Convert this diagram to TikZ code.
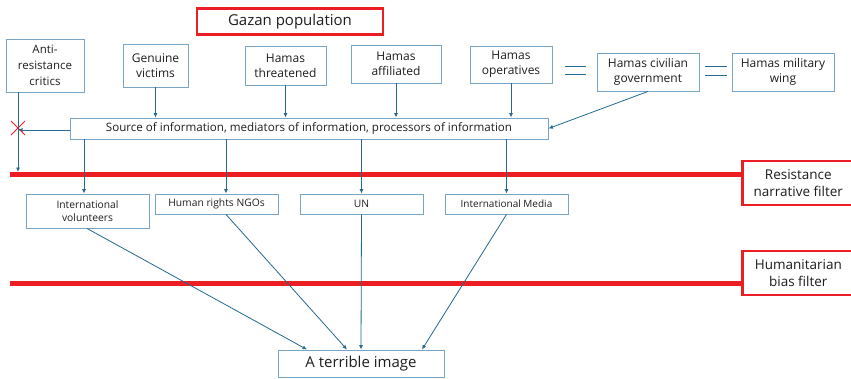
\documentclass[tikz,border=0pt]{standalone}
\usepackage{fontspec}
\setmainfont{Open Sans}
\usetikzlibrary{arrows.meta}
\definecolor{boxc}{RGB}{120,165,195}
\definecolor{arr}{RGB}{35,105,145}
\definecolor{redc}{RGB}{236,30,36}
\definecolor{txt}{RGB}{30,30,30}
\tikzset{
  bx/.style={draw=boxc, line width=0.9pt, inner sep=0pt, align=center, text=txt, font=\fontsize{12}{15}\selectfont},
  rbx/.style={draw=redc, line width=2.6pt, inner sep=0pt, align=center, text=txt, fill=white},
  ar/.style={draw=arr, line width=0.8pt, -{Latex[length=4.5pt,width=4pt]}},
  ln/.style={draw=arr, line width=0.8pt},
  redline/.style={draw=redc, line width=5pt},
}
\begin{document}
\begin{tikzpicture}[x=1pt,y=-1pt]
\useasboundingbox (0,0) rectangle (851,378);
% red lines
\coordinate (l1a) at (10,174); \coordinate (l1b) at (745,174);
\coordinate (l2a) at (10,283); \coordinate (l2b) at (745,283);
\draw[redline] (l1a) -- (l1b);
\draw[redline] (l2a) -- (l2b);
% title
\node[rbx, minimum width=186pt, minimum height=26pt, font=\fontsize{15}{17}\selectfont] (gaza) at (290,21.5) {Gazan population};
% top boxes
\node[bx, minimum width=78pt, minimum height=53pt, font=\fontsize{11.5}{16}\selectfont] (anti) at (45,65.5) {Anti-\\resistance\\critics};
\node[bx, minimum width=65pt, minimum height=43pt] (gen) at (155.5,65.5) {Genuine\\victims};
\node[bx, minimum width=81pt, minimum height=39pt] (thr) at (285.5,65.5) {Hamas\\threatened};
\node[bx, minimum width=90pt, minimum height=38pt] (aff) at (396,64) {Hamas\\affiliated};
\node[bx, minimum width=82pt, minimum height=37pt] (ops) at (511,64.5) {Hamas\\operatives};
\node[bx, minimum width=102pt, minimum height=38pt] (civ) at (648,72) {Hamas civilian\\government};
\node[bx, minimum width=102pt, minimum height=38pt] (mil) at (783,72) {Hamas military\\wing};
% double lines
\coordinate (d1a) at (565,66); \coordinate (d1b) at (586,66);
\coordinate (d2a) at (565,74); \coordinate (d2b) at (586,74);
\coordinate (d3a) at (705,66); \coordinate (d3b) at (727,66);
\coordinate (d4a) at (705,75); \coordinate (d4b) at (727,75);
\draw[ln] (d1a) -- (d1b); \draw[ln] (d2a) -- (d2b);
\draw[ln] (d3a) -- (d3b); \draw[ln] (d4a) -- (d4b);
% source box
\node[bx, minimum width=478pt, minimum height=21pt, font=\fontsize{11.6}{13}\selectfont] (src) at (309,128.5) {Source of information, mediators of information, processors of information};
% arrows into source
\draw[ar] (gen.south) -- (gen.south |- src.north);
\draw[ar] (thr.south) -- (thr.south |- src.north);
\draw[ar] (aff.south) -- (aff.south |- src.north);
\draw[ar] (ops.south) -- (ops.south |- src.north);
\draw[ar] (civ.south) -- (src.east);
% left arrow + X
\coordinate (xl) at (18,130);
\draw[ar] (src.west |- xl) -- (xl);
\draw[redc, line width=0.8pt] (11,121) -- (25,135) (11,135) -- (25,121);
\coordinate (antitop) at (18,92);
\coordinate (antiend) at (18,172);
\draw[ar] (antitop) -- (antiend);
% lower boxes
\node[bx, minimum width=123pt, minimum height=34pt, font=\fontsize{10.3}{13.5}\selectfont] (vol) at (87.5,211) {International\\volunteers};
\node[bx, minimum width=123pt, minimum height=20pt, font=\fontsize{10.3}{12}\selectfont] (ngo) at (216.5,204) {Human rights NGOs};
\node[bx, minimum width=123pt, minimum height=20pt, font=\fontsize{10.3}{12}\selectfont] (un) at (361.5,204) {UN};
\node[bx, minimum width=123pt, minimum height=20pt, font=\fontsize{10}{12}\selectfont] (med) at (506.5,204) {International Media};
\draw[ar] ([xshift=-3.5pt]vol.north |- src.south) -- ([xshift=-3.5pt]vol.north);
\draw[ar] ([xshift=9.5pt]ngo.north |- src.south) -- ([xshift=9.5pt]ngo.north);
\draw[ar] (un.north |- src.south) -- (un.north);
\draw[ar] (med.north |- src.south) -- (med.north);
% filter boxes
\node[rbx, minimum width=112pt, minimum height=44pt, font=\fontsize{13.5}{17}\selectfont, anchor=west] (rf) at (741,183) {Resistance\\narrative filter};
\node[rbx, minimum width=112pt, minimum height=44pt, font=\fontsize{13.5}{17}\selectfont, anchor=west] (hf) at (741,273) {Humanitarian\\bias filter};
% final box
\node[bx, minimum width=166pt, minimum height=27pt, font=\fontsize{15}{17}\selectfont] (img) at (361,363.5) {A terrible image};
\draw[ar] ([xshift=-0.5pt]vol.south) -- ([xshift=-54pt]img.north);
\draw[ar] ([xshift=9.5pt]ngo.south) -- ([xshift=-14pt]img.north);
\draw[ar] (un.south) -- (img.north);
\draw[ar] (med.south) -- ([xshift=61pt]img.north);
\end{tikzpicture}
\end{document}
